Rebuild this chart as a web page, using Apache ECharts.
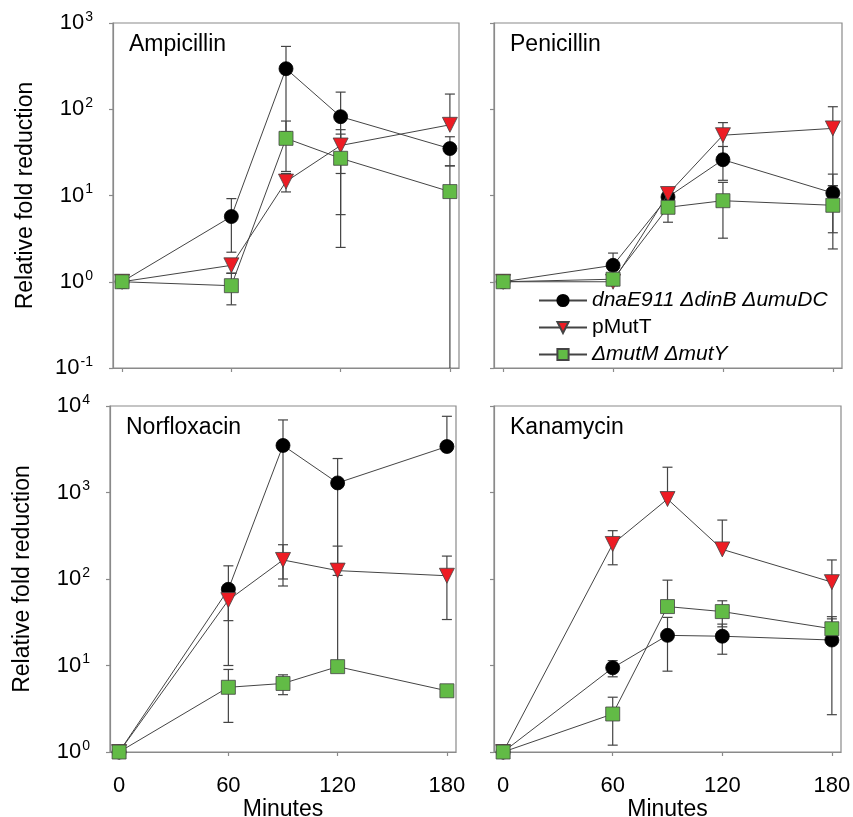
<!DOCTYPE html>
<html>
<head>
<meta charset="utf-8">
<script src="https://cdn.jsdelivr.net/npm/echarts@6/dist/echarts.min.js"></script>
<style>
  html, body { margin: 0; padding: 0; background: #fff; }
  #chart { width: 853px; height: 817px; }
</style>
</head>
<body>
<div id="chart"></div>
<script>
// x values (minutes) and the ticks shown on the x axis
var minutes = [0, 60, 90, 120, 180];
var tickMinutes = [0, 60, 120, 180];
var seriesNames = ['dnaE911 \u0394dinB \u0394umuDC', 'pMutT', '\u0394mutM \u0394mutY'];
var panelTitles = ['Ampicillin', 'Penicillin', 'Norfloxacin', 'Kanamycin'];

// Ampicillin
var ampDna = [1, 5.7, 295, 82, 35];
var ampDnaSd = [0.15, 3.5, 240, 76, 13];
var ampMutT = [1, 1.55, 14.5, 38, 66];
var ampMutTSd = [0.15, 0.3, 3.5, 20, 84];
var ampMutMY = [1, 0.9, 46, 27, 11.1];
var ampMutMYSd = [0.15, 0.36, 27, 24.5, 11.05];

// Penicillin
var penDna = [1, 1.55, 9.6, 26, 10.7];
var penDnaSd = [0.1, 0.6, 1.5, 11, 7];
var penMutT = [1, 1.0, 10.4, 50, 60];
var penMutTSd = [0.1, 0.1, 1.5, 20, 47];
var penMutMY = [1, 1.07, 7.3, 8.7, 7.7];
var penMutMYSd = [0.1, 0.1, 2.4, 5.5, 5.3];

// Norfloxacin
var norDna = [1, 76, 3500, 1290, 3400];
var norDnaSd = [0.1, 66, 3400, 1180, 4200];
var norMutT = [1, 57, 166, 125, 109];
var norMutTSd = [0.1, 24, 83, 115, 75];
var norMutMY = [1, 5.6, 6.2, 9.7, 5.1];
var norMutMYSd = [0.1, 3.4, 1.6, 0.5, 0.4];

// Kanamycin
var kanDna = [1, 9.4, 22.3, 21.8, 19.7];
var kanDnaSd = [0.1, 2, 13.7, 8.3, 17];
var kanMutT = [1, 254, 840, 220, 92];
var kanMutTSd = [0.1, 108, 1120, 260, 74];
var kanMutMY = [1, 2.75, 48, 42, 26.6];
var kanMutMYSd = [0.1, 1.55, 49, 14, 8];

var panels = [
    { title: panelTitles[0], means: [ampDna, ampMutT, ampMutMY], sds: [ampDnaSd, ampMutTSd, ampMutMYSd],
      yMin: 0.1, yMax: 1000, grid: { left: 113, top: 23, width: 346, height: 345 }, leftCol: true, bottomRow: false },
    { title: panelTitles[1], means: [penDna, penMutT, penMutMY], sds: [penDnaSd, penMutTSd, penMutMYSd],
      yMin: 0.1, yMax: 1000, grid: { left: 494, top: 23, width: 348, height: 345 }, leftCol: false, bottomRow: false },
    { title: panelTitles[2], means: [norDna, norMutT, norMutMY], sds: [norDnaSd, norMutTSd, norMutMYSd],
      yMin: 1, yMax: 10000, grid: { left: 110, top: 406, width: 346, height: 346 }, leftCol: true, bottomRow: true },
    { title: panelTitles[3], means: [kanDna, kanMutT, kanMutMY], sds: [kanDnaSd, kanMutTSd, kanMutMYSd],
      yMin: 1, yMax: 10000, grid: { left: 494, top: 406, width: 347, height: 346 }, leftCol: false, bottomRow: true }
];

var FONT = 'Arial, "Liberation Sans", Helvetica, sans-serif';
var axisGray = '#8a8a8a';
var lineGray = '#444';
var markers = [
    { symbol: 'circle', size: 14, rotate: 0, color: '#000', border: '#000' },
    { symbol: 'triangle', size: 15, rotate: 180, color: '#ed1c24', border: '#444' },
    { symbol: 'rect', size: 14, rotate: 0, color: '#62bb46', border: '#444' }
];

function renderErrorBar(params, api) {
    var x = api.value(0), lo = api.value(1), hi = api.value(2), loCap = api.value(3);
    var pHi = api.coord([x, hi]);
    var pLo = api.coord([x, lo]);
    var half = 5;
    var st = { stroke: lineGray, lineWidth: 1.2 };
    var kids = [
        { type: 'line', shape: { x1: pHi[0], y1: pHi[1], x2: pLo[0], y2: pLo[1] }, style: st },
        { type: 'line', shape: { x1: pHi[0] - half, y1: pHi[1], x2: pHi[0] + half, y2: pHi[1] }, style: st }
    ];
    if (loCap) {
        kids.push({ type: 'line', shape: { x1: pLo[0] - half, y1: pLo[1], x2: pLo[0] + half, y2: pLo[1] }, style: st });
    }
    return { type: 'group', children: kids };
}

function errorData(means, sds, yMin) {
    return means.map(function (m, i) {
        var lo = m - sds[i], cap = 1;
        if (lo <= 0) { lo = m; cap = 0; }
        else if (lo < yMin) { lo = yMin; cap = 0; }
        return [minutes[i], lo, m + sds[i], cap];
    });
}

var grids = [], xAxes = [], yAxes = [], titles = [], series = [];

panels.forEach(function (p, k) {
    grids.push({ left: p.grid.left, top: p.grid.top, width: p.grid.width, height: p.grid.height,
        outerBoundsMode: 'none', containLabel: false,
        show: true, borderColor: axisGray, borderWidth: 1.2, backgroundColor: 'transparent' });

    xAxes.push({
        gridIndex: k, type: 'value', min: -5, max: 185,
        name: p.bottomRow ? 'Minutes' : '', nameLocation: 'middle', nameGap: 44,
        nameTextStyle: { fontSize: 23, color: '#000', fontFamily: FONT },
        axisLine: { show: true, onZero: false, lineStyle: { color: axisGray, width: 1.2 } },
        axisTick: { show: true, length: 4, lineStyle: { color: axisGray, width: 1.2 }, customValues: tickMinutes },
        axisLabel: { show: p.bottomRow, fontSize: 22, color: '#000', fontFamily: FONT, margin: 23, customValues: tickMinutes },
        splitLine: { show: false }
    });

    yAxes.push({
        gridIndex: k, type: 'log', logBase: 10, min: p.yMin, max: p.yMax,
        name: p.leftCol ? 'Relative fold reduction' : '', nameLocation: 'middle', nameGap: 76,
        nameTextStyle: { fontSize: 23, color: '#000', fontFamily: FONT },
        axisLine: { show: true, onZero: false, lineStyle: { color: axisGray, width: 1.2 } },
        axisTick: { show: true, length: 4, lineStyle: { color: axisGray, width: 1.2 } },
        axisLabel: {
            show: p.leftCol, margin: 20, color: '#000', fontFamily: FONT,
            formatter: function (v) {
                return '{b|10}{s|' + Math.round(Math.log10(v)) + '}';
            },
            rich: {
                b: { fontSize: 22, fontFamily: FONT, color: '#000' },
                s: { fontSize: 14, fontFamily: FONT, color: '#000', verticalAlign: 'top', padding: [0, 0, 12, 1] }
            }
        },
        splitLine: { show: false }
    });

    titles.push({
        text: p.title, left: p.grid.left + 11, top: p.grid.top + 5,
        textStyle: { fontSize: 23, fontWeight: 'normal', color: '#000', fontFamily: FONT }
    });

    // error bars first so the markers sit on top
    p.means.forEach(function (m, j) {
        series.push({
            name: 'err' + k + '_' + j, type: 'custom', xAxisIndex: k, yAxisIndex: k,
            renderItem: renderErrorBar, encode: { x: 0, y: [1, 2] }, z: 1,
            data: errorData(m, p.sds[j], p.yMin), silent: true
        });
    });
    p.means.forEach(function (m, j) {
        var mk = markers[j];
        series.push({
            name: seriesNames[j], type: 'line', xAxisIndex: k, yAxisIndex: k, z: 2 + j,
            data: m.map(function (v, i) { return [minutes[i], v]; }),
            symbol: mk.symbol, symbolSize: mk.size, symbolRotate: mk.rotate, showAllSymbol: true,
            lineStyle: { color: lineGray, width: 1 },
            itemStyle: { color: mk.color, borderColor: mk.border, borderWidth: 0.8 },
            emphasis: { disabled: true }, animation: false
        });
    });
});

var chart = echarts.init(document.getElementById('chart'), null, { renderer: 'canvas' });
chart.setOption({
    backgroundColor: '#fff',
    animation: false,
    title: titles,
    grid: grids,
    xAxis: xAxes,
    yAxis: yAxes,
    legend: {
        orient: 'vertical', left: 533, top: 285, itemWidth: 48, itemHeight: 14, itemGap: 6,
        textStyle: { fontSize: 21, color: '#000', fontFamily: FONT },
        data: [
            { name: seriesNames[0], textStyle: { fontStyle: 'italic' } },
            { name: seriesNames[1] },
            { name: seriesNames[2], textStyle: { fontStyle: 'italic' } }
        ]
    },
    series: series
});
</script>
</body>
</html>
